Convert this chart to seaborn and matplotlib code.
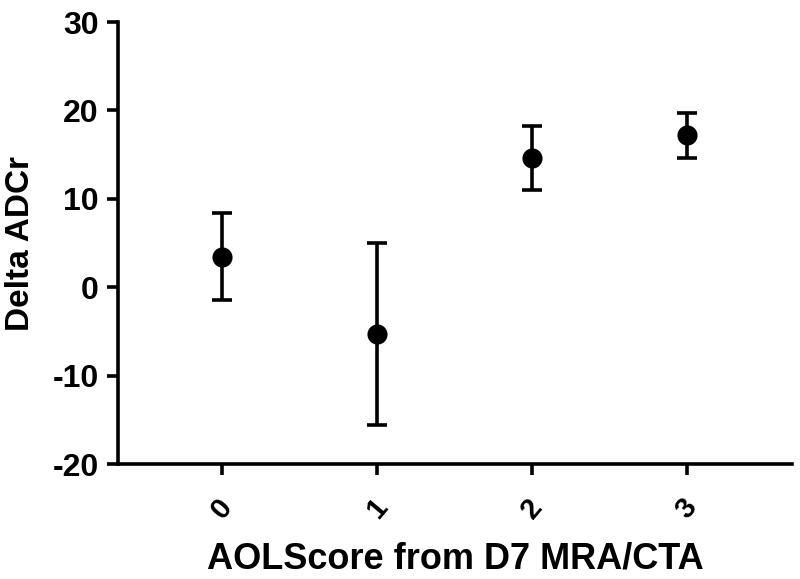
import matplotlib
matplotlib.use("Agg")
import matplotlib.pyplot as plt
import seaborn as sns
import pandas as pd
import numpy as np

# Data
categories = ["0", "1", "2", "3"]
means = [3.45, -5.3, 14.6, 17.2]
errors = [4.9, 10.3, 3.65, 2.55]
y_ticks = [-20, -10, 0, 10, 20, 30]

sns.set_theme(style="ticks")
plt.rcParams["font.family"] = ["Liberation Sans", "DejaVu Sans"]
plt.rcParams["text.color"] = "black"
plt.rcParams["axes.labelcolor"] = "black"
plt.rcParams["xtick.color"] = "black"
plt.rcParams["ytick.color"] = "black"

df = pd.DataFrame({"score": categories, "delta": means, "err": errors})
df["pos"] = np.arange(len(categories))

fig = plt.figure(figsize=(8.0, 5.79), dpi=100)
ax = fig.add_axes([0.1475, 0.1986, 0.8425, 0.7634])

ax.errorbar(df["pos"], df["delta"], yerr=df["err"], fmt="none",
            ecolor="black", elinewidth=2.6, capsize=7, capthick=2.6, zorder=2)
sns.scatterplot(data=df, x="pos", y="delta", color="black", s=210,
                edgecolor="black", linewidth=0, ax=ax, zorder=3, legend=False)

ax.set_xlim(-0.67, 3.68)
ax.set_ylim(-20, 30)
ax.set_yticks(y_ticks)
ax.set_yticklabels([str(t) for t in y_ticks], fontsize=23, fontweight="bold")
ax.set_xticks(df["pos"])
ax.set_xticklabels(categories, fontsize=21, fontweight="bold", rotation=50,
                   ha="center", va="center")

for s in ["top", "right"]:
    ax.spines[s].set_visible(False)
for s in ["left", "bottom"]:
    ax.spines[s].set_linewidth(2.6)
    ax.spines[s].set_color("black")
ax.tick_params(axis="both", direction="out", length=8, width=2.6, color="black",
               labelcolor="black")
ax.tick_params(axis="y", pad=6)
ax.tick_params(axis="x", pad=24)

ax.set_xlabel("AOLScore from D7 MRA/CTA", fontsize=26, fontweight="bold",
              color="black")
ax.xaxis.set_label_coords(0.5, -0.175)
ax.set_ylabel("Delta ADCr", fontsize=24, fontweight="bold", color="black")
ax.yaxis.set_label_coords(-0.122, 0.5)

fig.savefig("out.png", dpi=100)
